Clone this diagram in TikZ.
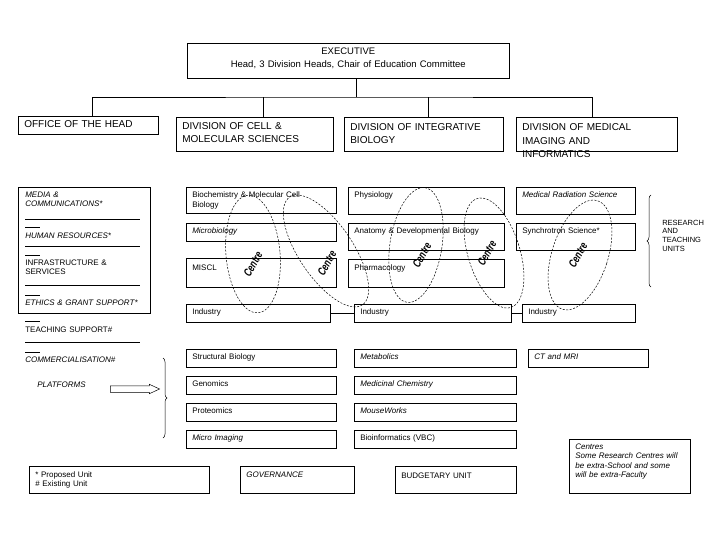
\documentclass[tikz,border=0pt]{standalone}
\usepackage{fontspec}
\setmainfont{Liberation Sans}
\usetikzlibrary{positioning, shapes.arrows, decorations.pathreplacing}

\begin{document}
\begin{tikzpicture}[x=1pt, y=-1pt, line width=0.6pt,
  box/.style={draw, anchor=north west, align=left, inner xsep=6pt, inner ysep=0pt,
    text height=10.5pt, font=\fontsize{8}{10}\selectfont},
  itbox/.style={box, font=\itshape\fontsize{8}{10}\selectfont},
  div/.style={box, text height=12.5pt, font=\fontsize{10}{12.5}\selectfont},
  side/.style={anchor=north west, align=left, inner sep=0pt, text height=6pt,
    text width=125pt, font=\itshape\fontsize{8}{9}\selectfont},
  sideup/.style={side, font=\fontsize{8}{9}\selectfont},
  centre/.style={draw, dash pattern=on 2pt off 1.5pt, line width=0.5pt},
  tag/.style={inner sep=0pt, rotate=60, xscale=0.72,
    font=\bfseries\itshape\fontsize{11.5}{11.5}\selectfont},
  curly/.style={decorate, decoration={brace, amplitude=4pt}, line width=0.5pt}]

\useasboundingbox (0,0) rectangle (720,540);

% executive and the four divisions
\node[div, align=center, text width=310pt, text height=11.5pt, text depth=23.5pt,
  font=\fontsize{9.5}{13}\selectfont] (exec) at (187,43)
  {EXECUTIVE\\Head, 3 Division Heads, Chair of Education Committee};
\node[div, text width=128pt, text height=11.5pt, text depth=6.5pt] (office) at (18,116) {OFFICE OF THE HEAD};
\node[div, text width=145pt, text depth=21.5pt] (cell) at (176,117) {DIVISION OF CELL \&\\MOLECULAR SCIENCES};
\node[div, text width=147pt, text height=13.5pt, text depth=20.5pt] (integ) at (344,117) {DIVISION OF INTEGRATIVE\\BIOLOGY};
\node[div, text width=149pt, text height=13.5pt, text depth=20.5pt,
  font=\fontsize{10}{13.5}\selectfont] (med) at (516,117) {DIVISION OF MEDICAL\\IMAGING AND\\INFORMATICS};

% tree lines
\coordinate (bus) at (356,97);
\draw (bus) -- (bus |- exec.south);
\draw ([xshift=4pt]office.north) |- (bus) -| ([xshift=-4.5pt]med.north);
\draw ([xshift=8.5pt]cell.north) -- ([xshift=8.5pt]cell.north |- bus);
\draw ([xshift=4.5pt]integ.north) -- ([xshift=4.5pt]integ.north |- bus);

% office of the head
\node[draw, anchor=north west, inner sep=0pt, minimum width=132pt, minimum height=126pt] (support) at (18,187) {};
\foreach \y in {219,246,285,313,342} \draw (25,\y) -- (140,\y);
\foreach \y in {227,255,295,321,352} \draw (25,\y) -- (40,\y);
\node[side] (media) at (25,191) {MEDIA \&\\COMMUNICATIONS*};
\node[side] (human) at (25,232) {HUMAN RESOURCES*};
\node[sideup] (infra) at (25,259) {INFRASTRUCTURE \&\\SERVICES};
\node[side] (ethics) at (25,299) {ETHICS \& GRANT SUPPORT*};
\node[sideup] (teach) at (25,326) {TEACHING SUPPORT\#};
\node[side] (commerce) at (25,356) {COMMERCIALISATION\#};
\node[side] (platforms) at (37,381) {PLATFORMS};
\node[single arrow, draw, line width=0.5pt, inner xsep=0pt, inner ysep=3pt, minimum height=49pt,
  minimum width=9pt, single arrow head extend=1.5pt, single arrow tip angle=50] (parrow) at (131.5,389) {};
\coordinate (pb1) at (163,358);
\coordinate (pb2) at (163,438);
\draw[curly] (pb1) -- (pb2);

% research and teaching units
\node[box, text width=138pt, text depth=15.5pt] (biochem) at (186,187) {Biochemistry \& Molecular Cell\\Biology};
\node[itbox, text width=138pt, text depth=7.5pt] (micro) at (186,223) {Microbiology};
\node[box, text width=138pt, text height=12.5pt, text depth=16.5pt] (miscl) at (186,258) {MISCL};
\node[box, text width=132pt, text depth=7.5pt] (ind1) at (186,304) {Industry};

\node[box, text width=144pt, text depth=16.5pt] (physio) at (348,187) {Physiology};
\node[box, text width=144pt, text depth=16.5pt] (anat) at (348,223) {Anatomy \& Developmental Biology};
\node[box, text width=144pt, text height=11.5pt, text depth=16.5pt] (pharm) at (348,259) {Pharmacology};
\node[box, text width=145pt, text depth=7.5pt] (ind2) at (354,304) {Industry};

\node[itbox, text width=107pt, text depth=16.5pt] (medrad) at (516,187) {Medical Radiation Science};
\node[box, text width=107pt, text depth=16.5pt] (synch) at (516,223) {Synchrotron Science*};
\node[box, text width=101pt, text depth=7.5pt] (ind3) at (522,304) {Industry};

\draw (ind1) -- (ind2);
\draw (ind2) -- (ind3);

\coordinate (rb1) at (651,287);
\coordinate (rb2) at (651,195);
\draw[curly] (rb1) -- (rb2);
\node[anchor=north west, align=left, inner sep=0pt, text height=6pt, text width=50pt,
  font=\fontsize{7.5}{8.7}\selectfont] (rtu) at (662,219) {RESEARCH\\AND\\TEACHING\\UNITS};

% centres
\draw[centre, rotate around={5:(253,254)}] (253,254) ellipse [x radius=27pt, y radius=59pt];
\draw[centre, rotate around={34:(326,251)}] (326,251) ellipse [x radius=27pt, y radius=65pt];
\draw[centre, rotate around={-9:(416,245)}] (416,245) ellipse [x radius=26pt, y radius=58pt];
\draw[centre, rotate around={17:(494,253)}] (494,253) ellipse [x radius=26pt, y radius=57pt];
\draw[centre, rotate around={-18:(580,255)}] (580,255) ellipse [x radius=28pt, y radius=57pt];
\node[tag] (tag1) at (253,264) {Centre};
\node[tag] (tag2) at (327,263) {Centre};
\node[tag] (tag3) at (422,255) {Centre};
\node[tag] (tag4) at (487,253) {Centre};
\node[tag] (tag5) at (578,255) {Centre};

% platforms
\node[box, text width=138pt, text depth=7.5pt] (struct) at (186,349) {Structural Biology};
\node[box, text width=138pt, text depth=7.5pt] (genom) at (186,376) {Genomics};
\node[box, text width=138pt, text depth=7.5pt] (proteom) at (186,403) {Proteomics};
\node[itbox, text width=138pt, text depth=7.5pt] (imaging) at (186,430) {Micro Imaging};
\node[itbox, text width=150pt, text depth=7.5pt] (metab) at (354,349) {Metabolics};
\node[itbox, text width=150pt, text depth=7.5pt] (medchem) at (354,376) {Medicinal Chemistry};
\node[itbox, text width=150pt, text depth=7.5pt] (mouse) at (354,403) {MouseWorks};
\node[box, text width=150pt, text depth=7.5pt] (bioinf) at (354,430) {Bioinformatics (VBC)};
\node[itbox, text width=108pt, text depth=7.5pt] (ctmri) at (528,349) {CT and MRI};

% legend and notes
\node[box, text width=168pt, text height=11pt, text depth=16pt,
  font=\fontsize{8}{9.5}\selectfont] (legend) at (29,466) {* Proposed Unit\\\# Existing Unit};
\node[itbox, text width=102pt, text height=11pt, text depth=16pt] (gov) at (240,466) {GOVERNANCE};
\node[box, text width=109pt, text height=12pt, text depth=15pt] (budget) at (395,466) {BUDGETARY UNIT};
\node[itbox, text width=109pt, text height=10pt, text depth=44pt,
  font=\itshape\fontsize{8}{9.5}\selectfont] (centres) at (569,439)
  {Centres\\Some Research Centres will\\be extra-School and some\\will be extra-Faculty};

\end{tikzpicture}
\end{document}
